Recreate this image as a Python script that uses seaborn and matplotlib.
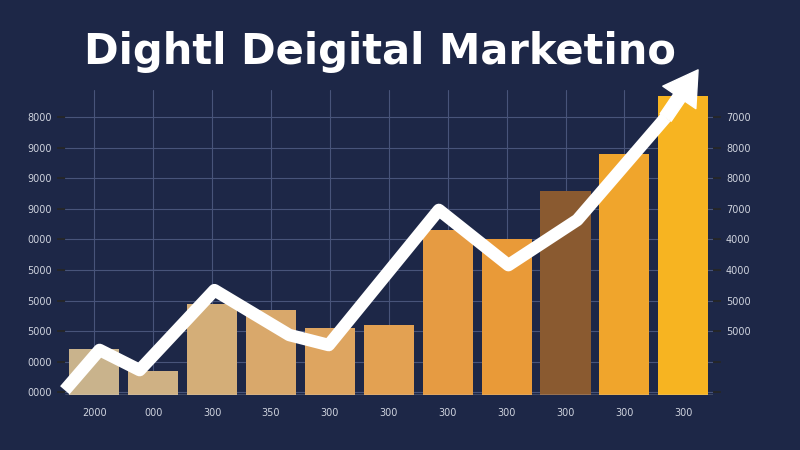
import numpy as np
import pandas as pd
import seaborn as sns
from matplotlib import pyplot as plt

# bar data (0-10 scale)
months = [f"m{i}" for i in range(11)]
bar_values = [1.5, 0.8, 3.0, 2.8, 2.2, 2.3, 5.4, 5.1, 6.7, 7.9, 9.8]
bar_colors = ["#c9b38c", "#cfb184", "#d4ae78", "#d9a86b", "#dea560", "#e3a152",
              "#e69b42", "#e99a38", "#8a5a30", "#f0a52c", "#f7b421"]

# white trend arrow
trend_x = [-0.5, 0.09, 0.77, 2.04, 3.31, 3.98, 5.85, 7.03, 8.2, 9.7, 10.25]
trend_y = [0.16, 1.48, 0.82, 3.44, 1.97, 1.64, 6.07, 4.26, 5.74, 9.1, 10.66]

left_ticks = ["0000", "0000", "5000", "5000", "5000", "0000", "9000", "9000", "9000", "8000"]
right_ticks = ["", "", "5000", "5000", "4000", "4000", "7000", "8000", "8000", "7000"]
x_ticks = ["2000", "000", "300", "350", "300", "300", "300", "300", "300", "300", "300"]

bg = "#1d2747"
sns.set_theme(style="dark")
plt.rcParams["font.family"] = ["DejaVu Sans"]

fig = plt.figure(figsize=(8, 4.5), dpi=100, facecolor=bg)
ax = fig.add_axes([0.081, 0.122, 0.81, 0.678], facecolor=bg)

df = pd.DataFrame({"month": months, "value": bar_values})
sns.barplot(data=df, x="month", y="value", hue="month", palette=bar_colors,
            legend=False, width=0.85, saturation=1, edgecolor="none",
            linewidth=0, ax=ax, zorder=2)

ax.set_ylim(0, 10)
ax.set_xlim(-0.5, 10.5)
ax.set_yticks(np.arange(0.1, 10, 1.0))
ax.set_yticklabels(left_ticks, color="#cfd3de", fontsize=7)
ax.set_xticks(range(11))
ax.set_xticklabels(x_ticks, color="#cfd3de", fontsize=7)
ax.set_xlabel("")
ax.set_ylabel("")
ax.grid(True, color="#48547a", linewidth=0.8, zorder=0)
ax.set_axisbelow(True)
for s in ax.spines.values():
    s.set_visible(False)
ax.axhline(0, color="#cfd3de", lw=1)

ax2 = ax.twinx()
ax2.set_ylim(0, 10)
ax2.set_yticks(np.arange(0.1, 10, 1.0))
ax2.set_yticklabels(right_ticks, color="#cfd3de", fontsize=7)
for s in ax2.spines.values():
    s.set_visible(False)

ax.plot(trend_x[:-1], trend_y[:-1], color="white", lw=9, solid_joinstyle="round",
        solid_capstyle="butt", zorder=5, clip_on=False)
ax.annotate("", xy=(trend_x[-1], trend_y[-1]), xytext=(trend_x[-2], trend_y[-2]),
            xycoords="data",
            arrowprops=dict(arrowstyle="simple,head_width=2.4,head_length=2.0,tail_width=0.8",
                            color="white", shrinkA=0, shrinkB=0),
            zorder=6, annotation_clip=False)

fig.text(0.475, 0.885, "Dightl Deigital Marketino", color="white", fontsize=30,
         fontweight="bold", ha="center", va="center")

fig.savefig("out.png", facecolor=bg)
